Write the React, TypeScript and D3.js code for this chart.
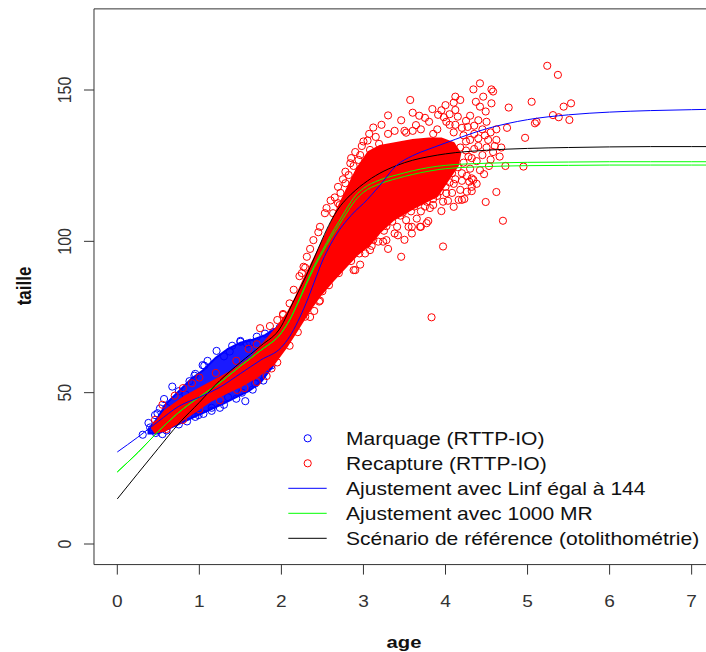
import React from 'react';
import * as d3 from 'd3';

// ---------- data ----------
const curveAges = [0, 0.25, 0.5, 0.75, 1, 1.25, 1.5, 1.75, 2, 2.1, 2.2, 2.3, 2.4, 2.5, 2.6, 2.7, 2.8, 2.9, 3.0, 3.2, 3.4, 3.6, 3.8, 4.0, 4.5, 5, 5.5, 6, 6.5, 7, 7.4];
const blueFit = [30.4, 35.3, 40.5, 45.5, 48.5, 51.8, 56.3, 60.8, 65.0, 68.5, 73.5, 79.5, 86.5, 93.5, 99.0, 103.5, 107.0, 110.0, 112.5, 118.5, 125.0, 128.3, 130.5, 132.5, 137.2, 140.2, 141.8, 142.7, 143.2, 143.5, 143.7];
const greenFitHigh = [23.8, 30.2, 37.2, 43.5, 48.6, 53.3, 58.8, 64.0, 69.8, 74.0, 79.8, 86.0, 92.0, 97.0, 102.0, 106.5, 111.0, 115.0, 117.5, 120.3, 121.9, 123.3, 124.4, 125.1, 125.8, 126.1, 126.2, 126.3, 126.3, 126.3, 126.3];
const greenFitLow = [23.8, 30.2, 37.2, 43.5, 48.6, 53.3, 58.8, 64.0, 69.8, 74.0, 79.5, 85.5, 91.3, 96.2, 101.0, 105.3, 109.6, 113.5, 116.2, 119.0, 120.7, 122.1, 123.2, 124.0, 124.7, 125.0, 125.1, 125.2, 125.2, 125.2, 125.2];
const blackRef = [14.9, 23.3, 31.6, 39.8, 46.8, 54.0, 60.0, 65.5, 72.0, 77.5, 83.0, 88.5, 94.5, 100.8, 106.5, 111.0, 114.2, 116.8, 119.0, 122.5, 125.0, 126.8, 128.0, 128.9, 130.1, 130.7, 131.0, 131.2, 131.3, 131.3, 131.3];

// dense cloud envelopes [age, taille]
const marquageCore = [
  [0.38, 37.5], [0.5, 42], [0.6, 46.5], [0.75, 50.5], [0.9, 54.5], [1.05, 57.5], [1.2, 61.5], [1.35, 64.5], [1.5, 66.5], [1.65, 67.5], [1.8, 69], [1.95, 71.5], [2.02, 74],
  [2.02, 68], [1.9, 59], [1.75, 53.5], [1.6, 50.5], [1.45, 48.5], [1.3, 46.5], [1.1, 44], [0.9, 41.5], [0.7, 39], [0.5, 36.5], [0.38, 36.5],
];
const recaptureCore = [
  [0.42, 38.5], [0.58, 44.0], [0.82, 48.7], [1.10, 52.8], [1.39, 57.0], [1.63, 61.5], [1.82, 67.5], [1.96, 72.0], [2.08, 76.5], [2.16, 80.6], [2.27, 87.2], [2.39, 93.8], [2.55, 102.7], [2.69, 111.0], [2.82, 118.5], [2.92, 124.0], [3.06, 129.5], [3.20, 131.5], [3.40, 132.5], [3.60, 133.5], [3.80, 134.0], [3.95, 134.0], [4.10, 132.5],
  [4.18, 129.0], [4.15, 125.0], [4.05, 121.0],
  [3.90, 115.0], [3.61, 111.0], [3.36, 107.0], [3.20, 103.0], [3.08, 99.0], [2.92, 95.5], [2.80, 92.0], [2.63, 87.0], [2.47, 82.0], [2.35, 77.5], [2.20, 71.0], [2.06, 65.0], [1.91, 59.5], [1.72, 55.5], [1.53, 52.5], [1.34, 50.0], [1.15, 47.5], [0.96, 44.0], [0.77, 40.5], [0.58, 37.5], [0.46, 36.8],
];

const marquagePoints = [
  [0.31, 36.1], [0.49, 43.2], [0.57, 47.9], [0.67, 52.0], [0.83, 49.4], [0.94, 55.6], [1.04, 59.1], [1.21, 63.8], [1.37, 63.6], [1.50, 66.8], [1.58, 66.2], [1.56, 47.2], [1.72, 55.0], [0.47, 36.7], [0.42, 37.9], [0.99, 42.6], [1.15, 45.0], [1.06, 58.9], [0.95, 56.2], [0.52, 44.8], [0.46, 42.6], [1.50, 67.1], [1.30, 62.0], [1.40, 65.5], [1.10, 60.5], [0.88, 53.8], [0.75, 50.5], [0.60, 45.0], [0.40, 38.5], [0.38, 40.0], [1.62, 66.5], [1.70, 68.5], [1.80, 69.5], [1.90, 70.0], [1.98, 71.5], [2.05, 67.0], [2.00, 65.0], [1.88, 59.0], [1.78, 54.0], [1.65, 51.0], [1.45, 48.0], [1.30, 46.0], [1.15, 44.0], [0.95, 42.0], [0.75, 39.5], [0.60, 37.5], [0.55, 36.3], [1.35, 48.5], [1.52, 50.0], [1.25, 45.0], [1.05, 43.0], [0.85, 40.5], [1.68, 53.0],
];

const recapturePoints = [
  [5.24, 158.0], [5.37, 155.0], [4.42, 152.2], [4.34, 150.2], [4.56, 150.2], [4.58, 149.5], [4.12, 147.8], [4.18, 146.7], [4.10, 145.8], [4.37, 146.1], [4.46, 147.8], [4.56, 145.6], [4.42, 144.5], [3.57, 146.7], [5.05, 146.1], [4.77, 144.2], [5.53, 145.6], [5.44, 144.5], [3.84, 143.7], [3.91, 141.8], [4.01, 139.5], [3.30, 141.6], [3.07, 135.5], [3.64, 138.4], [3.52, 135.9], [3.38, 136.5], [4.12, 143.4], [4.49, 142.9], [5.31, 141.7], [5.38, 141.0], [5.51, 140.1], [5.11, 139.5], [5.09, 139.0], [4.75, 137.5], [4.97, 134.2], [4.62, 133.5], [4.66, 128.0], [4.53, 124.9], [4.73, 124.9], [4.95, 124.7], [4.47, 122.2], [4.26, 121.6], [4.32, 120.8], [4.34, 120.3], [4.29, 119.7], [4.62, 116.3], [4.49, 113.0], [4.70, 106.8], [4.32, 116.6], [4.23, 114.0], [4.16, 113.7], [4.03, 113.4], [3.97, 113.1], [3.85, 112.0], [3.77, 113.1], [3.81, 111.0], [3.70, 109.9], [3.58, 109.9], [3.79, 106.7], [3.70, 104.8], [3.59, 104.8], [3.55, 104.8], [3.41, 104.8], [3.38, 102.6], [3.28, 100.4], [3.24, 99.9], [3.18, 99.9], [3.08, 97.1], [3.97, 98.3], [3.46, 94.9], [2.96, 92.3], [2.88, 90.5], [2.82, 94.2], [2.90, 90.5], [3.02, 96.0], [3.04, 99.3], [3.0, 102.6], [3.83, 74.9], [2.47, 80.4], [2.29, 75.1], [2.46, 80.1], [2.29, 91.3], [2.59, 90.0], [2.71, 112.0], [3.19, 132.2], [3.08, 130.2], [2.96, 128.5], [2.88, 124.9], [2.82, 121.9], [2.78, 119.2], [2.69, 112.6], [2.63, 109.3], [2.94, 126.9], [2.84, 125.8], [2.69, 118.0], [2.53, 109.3], [2.47, 104.8], [2.39, 100.4], [2.31, 94.9], [2.27, 91.6], [3.79, 116.4], [3.89, 118.0], [4.01, 115.9], [4.18, 117.0], [4.26, 116.4], [4.32, 118.0], [4.10, 111.4], [4.20, 113.7], [3.69, 104.8], [3.77, 106.0], [3.59, 102.6], [2.02, 75.7], [1.74, 71.3], [1.86, 72.0], [0.91, 53.1], [0.46, 41.0], [1.46, 50.9], [1.88, 58.0], [2.02, 76.0],
  [4.30, 141.5], [4.40, 140.0], [4.50, 139.5], [4.45, 137.0], [4.55, 136.0], [4.35, 138.2], [4.25, 139.8], [4.15, 141.2], [4.05, 142.0], [4.20, 137.5], [4.40, 134.0], [4.50, 131.0], [4.58, 129.5], [4.45, 128.5], [4.35, 130.5], [4.25, 133.0], [4.38, 126.5], [4.55, 127.0], [4.30, 124.0], [4.20, 122.5], [4.42, 123.5], [4.12, 120.5], [4.05, 119.5], [3.98, 120.3], [4.20, 120.0], [4.38, 119.0], [4.15, 124.5], [4.08, 122.5], [4.60, 131.5], [4.52, 133.5], [4.62, 137.0], [4.68, 131.0], [4.00, 145.0], [3.95, 143.3], [3.75, 140.8], [3.68, 141.5], [3.46, 140.0], [3.22, 138.5], [3.12, 137.6], [3.60, 142.5], [3.80, 139.5], [3.98, 141.0],
  [4.10, 136.0], [4.22, 135.0], [4.30, 133.5], [4.28, 128.0], [4.22, 126.0], [4.32, 127.5], [4.12, 138.5], [3.90, 137.0], [3.70, 137.0], [3.50, 136.5], [3.30, 135.5], [3.15, 134.5], [3.00, 133.0], [4.18, 131.0], [4.35, 135.5], [4.48, 135.0], [4.27, 137.8], [3.85, 135.5], [3.60, 136.5], [4.05, 138.5], [4.40, 131.5], [4.25, 130.0],
  [3.45, 108.5], [3.62, 111.5], [3.52, 107.0], [3.90, 115.0], [3.95, 110.0], [4.08, 116.0], [3.70, 115.0], [3.35, 106.5], [3.25, 103.5], [3.15, 103.0], [3.12, 100.5], [3.30, 97.5], [3.50, 100.5], [3.42, 102.0], [3.65, 107.5], [3.85, 114.0], [4.00, 118.0], [3.75, 111.5], [3.48, 109.5], [3.28, 105.0], [3.10, 98.5], [2.95, 96.0], [2.85, 93.5], [2.70, 89.5], [2.58, 85.5], [2.50, 83.5], [4.10, 119.0], [3.93, 116.5],
  [2.60, 113.5], [2.55, 111.0], [2.75, 120.5], [2.85, 127.5], [2.98, 131.5], [3.05, 133.3], [2.72, 116.0], [2.65, 114.5], [2.45, 103.0], [2.35, 97.5], [2.25, 89.5], [2.78, 123.0], [2.90, 129.5],
  [0.55, 46.0], [0.70, 49.0], [0.80, 51.5], [1.00, 55.0], [1.20, 56.5], [1.45, 60.5], [1.60, 64.5], [1.70, 66.0], [1.95, 74.0], [2.10, 79.5], [2.15, 84.0], [2.22, 88.5], [0.48, 39.5],
  [0.60, 38.0], [0.80, 41.0], [1.00, 44.5], [1.25, 47.5], [1.55, 51.5], [1.70, 53.5], [1.82, 55.5], [1.95, 60.0], [2.10, 65.5], [2.20, 70.0], [2.35, 75.0], [2.40, 77.0],
];

const xTicks = [0, 1, 2, 3, 4, 5, 6, 7];
const yTicks = [0, 50, 100, 150];
const legendLabels = [
  'Marquage (RTTP-IO)',
  'Recapture (RTTP-IO)',
  'Ajustement avec Linf égal à 144',
  'Ajustement avec 1000 MR',
  'Scénario de référence (otolithométrie)',
];

// ---------- layout ----------
const W = 706;
const H = 652;
const xLim = [0, 7.1];
const yLim = [0, 170];
const x = d3.scaleLinear().domain([0, 7]).range([117.3, 691.65]);
const y = d3.scaleLinear().domain([0, 150]).range([544, 90]);
const xPad = (xLim[1] - xLim[0]) * 0.04;
const yPad = (yLim[1] - yLim[0]) * 0.04;
const bx0 = x(xLim[0] - xPad);
const bx1 = x(xLim[1] + xPad);
const by0 = y(yLim[1] + yPad);
const by1 = y(yLim[0] - yPad);

const FONT = 'Liberation Sans, Arial, Helvetica, sans-serif';
const SX = 1.19;
const R = 3.6;

const line = d3.line<number[]>().x(d => x(d[0])).y(d => y(d[1])).curve(d3.curveMonotoneX);
const poly = d3.line<number[]>().x(d => x(d[0])).y(d => y(d[1])).curve(d3.curveLinearClosed);
const series = (vals: number[]) => curveAges.map((a, i) => [a, vals[i]]);

export default function App() {
  const legendY = (i: number) => 438.3 + i * 25;
  return (
    <svg width={W} height={H} style={{ position: 'absolute', left: 0, top: 0, background: '#fff' }} fontFamily={FONT}>
      <defs>
        <clipPath id="plotclip">
          <rect x={bx0} y={by0} width={bx1 - bx0} height={by1 - by0} />
        </clipPath>
      </defs>
      <rect x={0} y={0} width={W} height={H} fill="#fff" />
      <g clipPath="url(#plotclip)">
        <path d={poly(marquageCore) || ''} fill="#1a1aff" stroke="#0000ff" strokeWidth={2} />
        {marquagePoints.map((p, i) => (
          <circle key={'m' + i} cx={x(p[0])} cy={y(p[1])} r={R} fill="none" stroke="#0000ff" strokeWidth={1} />
        ))}
        <path d={poly(recaptureCore) || ''} fill="#ff0000" stroke="#ff0000" strokeWidth={2} />
        {recapturePoints.map((p, i) => (
          <circle key={'r' + i} cx={x(p[0])} cy={y(p[1])} r={R} fill="none" stroke="#ff0000" strokeWidth={1} />
        ))}
        <path d={line(series(greenFitHigh)) || ''} fill="none" stroke="#00ff00" strokeWidth={1} />
        <path d={line(series(greenFitLow)) || ''} fill="none" stroke="#00ff00" strokeWidth={1} />
        <path d={line(series(blackRef)) || ''} fill="none" stroke="#000000" strokeWidth={1} />
        <path d={line(series(blueFit)) || ''} fill="none" stroke="#0000ff" strokeWidth={1} />
      </g>
      {/* box */}
      <path d={`M${bx1},${by0}H${bx0}V${by1}H${bx1}`} fill="none" stroke="#333" strokeWidth={1} />
      {/* x axis */}
      {xTicks.map(t => (
        <g key={'xt' + t}>
          <line x1={x(t)} x2={x(t)} y1={by1} y2={by1 + 10} stroke="#333" />
          <text transform={`translate(${x(t)},${607}) scale(${SX},1)`} textAnchor="middle" fontSize={16} fill="#333">{t}</text>
        </g>
      ))}
      {/* y axis */}
      {yTicks.map(t => (
        <g key={'yt' + t}>
          <line x1={bx0 - 10} x2={bx0} y1={y(t)} y2={y(t)} stroke="#333" />
          <text transform={`translate(${71},${y(t)}) scale(${SX},1) rotate(-90)`} textAnchor="middle" fontSize={16} fill="#333">{t}</text>
        </g>
      ))}
      <text transform={`translate(404,648) scale(${SX},1)`} textAnchor="middle" fontSize={17} fontWeight="bold" fill="#111">age</text>
      <text transform={`translate(31,286) scale(${SX},1) rotate(-90)`} textAnchor="middle" fontSize={17} fontWeight="bold" fill="#111">taille</text>
      {/* legend */}
      <g>
        <circle cx={307.7} cy={legendY(0)} r={R} fill="none" stroke="#0000ff" />
        <circle cx={307.7} cy={legendY(1)} r={R} fill="none" stroke="#ff0000" />
        <line x1={288.3} x2={326.7} y1={legendY(2)} y2={legendY(2)} stroke="#0000ff" />
        <line x1={288.3} x2={326.7} y1={legendY(3)} y2={legendY(3)} stroke="#00ff00" />
        <line x1={288.3} x2={326.7} y1={legendY(4)} y2={legendY(4)} stroke="#000000" />
        {legendLabels.map((l, i) => (
          <text key={'lg' + i} transform={`translate(346,${legendY(i) + 6.3}) scale(${SX},1)`} fontSize={17.7} fill="#111">{l}</text>
        ))}
      </g>
    </svg>
  );
}
